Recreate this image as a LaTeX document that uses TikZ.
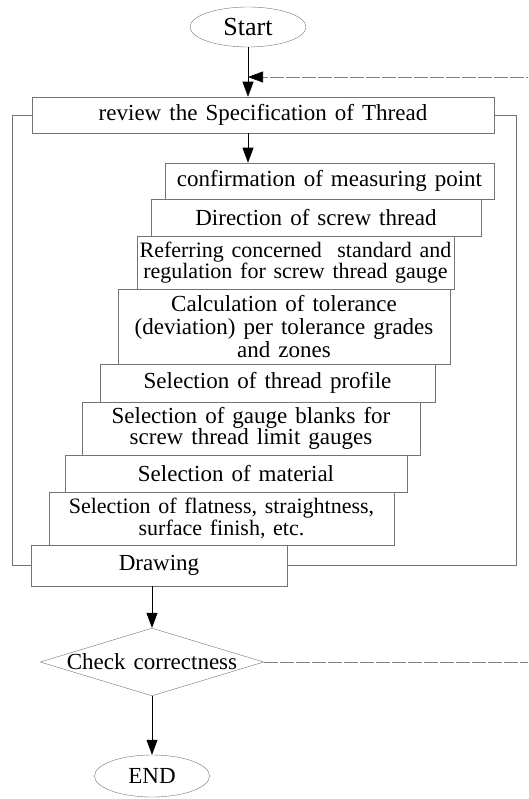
\documentclass[tikz,border=0pt]{standalone}
\usepackage{fontspec}
\setmainfont{Liberation Serif}[WordSpace=1.4]
\usetikzlibrary{shapes.geometric,arrows.meta}

\begin{document}
\begin{tikzpicture}[x=1pt,y=-1pt,
  every node/.style={font=\fontsize{23}{23}\selectfont},
  stepbox/.style={draw=black!55, line width=0.5pt, rectangle, inner sep=0pt, align=center},
  flowarrow/.style={-{Triangle[length=15pt,width=11pt,color=black]}, line width=0.6pt},
  sideline/.style={draw=black!55, line width=0.5pt},
  backline/.style={draw=black!50, line width=0.5pt, dash pattern=on 14pt off 2pt}]

%% page = 528 x 799 (y runs downwards)
\useasboundingbox (0,0) rectangle (528,799);
\clip (0,0) rectangle (528,799);

%% start / end %%%%%%%%%%%%%%%%%%%%%%%%%%%%%%%%%%%%%%
\node[draw=black!55, ellipse, inner sep=0pt, minimum width=116, minimum height=40, font=\fontsize{26}{26}\selectfont] (start) at (248,27) {Start};
\node[draw=black!55, ellipse, inner sep=0pt, minimum width=115, minimum height=42] (finish) at (152,776) {END};

%% the steps, each one a bit more to the left %%%%%%%
\node[stepbox, minimum width=462, minimum height=36] (review) at (263,115) {review the Specification of Thread};
\node[stepbox, minimum width=329, minimum height=36] (confirm) at (329.5,181) {confirmation of measuring point};
\node[stepbox, minimum width=330, minimum height=37] (direction) at (316,217.5) {Direction of screw thread};
\node[stepbox, minimum width=317, minimum height=53, font=\fontsize{22}{18}\selectfont] (refer) at (295.5,262.5) {Referring concerned \ standard and\\regulation for screw thread gauge};
\node[stepbox, minimum width=332, minimum height=75] (calc) at (284,326.5) {Calculation of tolerance\\(deviation) per tolerance grades\\and zones};
\node[stepbox, minimum width=335, minimum height=38] (profile) at (267.5,383) {Selection of thread profile};
\node[stepbox, minimum width=338, minimum height=53, font=\fontsize{23}{21}\selectfont] (blanks) at (251,428.5) {Selection of gauge blanks for\\screw thread limit gauges};
\node[stepbox, minimum width=342, minimum height=37] (material) at (236,473.5) {Selection of material};
\node[stepbox, minimum width=345, minimum height=53, font=\fontsize{22}{20}\selectfont] (flatness) at (221.5,518.5) {Selection of flatness, straightness,\\surface finish, etc.};
\node[stepbox, minimum width=256, minimum height=41] (drawing) at (159,565.5) {Drawing};

%% check %%%%%%%%%%%%%%%%%%%%%%%%%%%%%%%%%%%%%%%%%%%%
\node[draw=black!55, diamond, aspect=3.3, inner sep=0pt, minimum width=223, minimum height=67] (check) at (152,662) {Check correctness};

%% arrows down %%%%%%%%%%%%%%%%%%%%%%%%%%%%%%%%%%%%%%
\draw[flowarrow] (start.south) -- (start.south |- review.north);
\draw[flowarrow] (start.south |- review.south) -- (start.south |- confirm.north);
\draw[flowarrow] (check.north |- drawing.south) -- (check.north);
\draw[flowarrow] (check.south) -- (finish.north);

%% brackets review <-> drawing
\draw[sideline] (review.west) -- ++(-20,0) |- (drawing.west);
\draw[sideline] (review.east) -- ++(22,0) |- (drawing.east);

%% back to the top when not correct
\coordinate (loopright) at (540,77);
\draw[backline] (check.east) -- (540,662) -- (loopright);
\draw[backline, flowarrow] (loopright) -- (start.south |- loopright);
\end{tikzpicture}
\end{document}
